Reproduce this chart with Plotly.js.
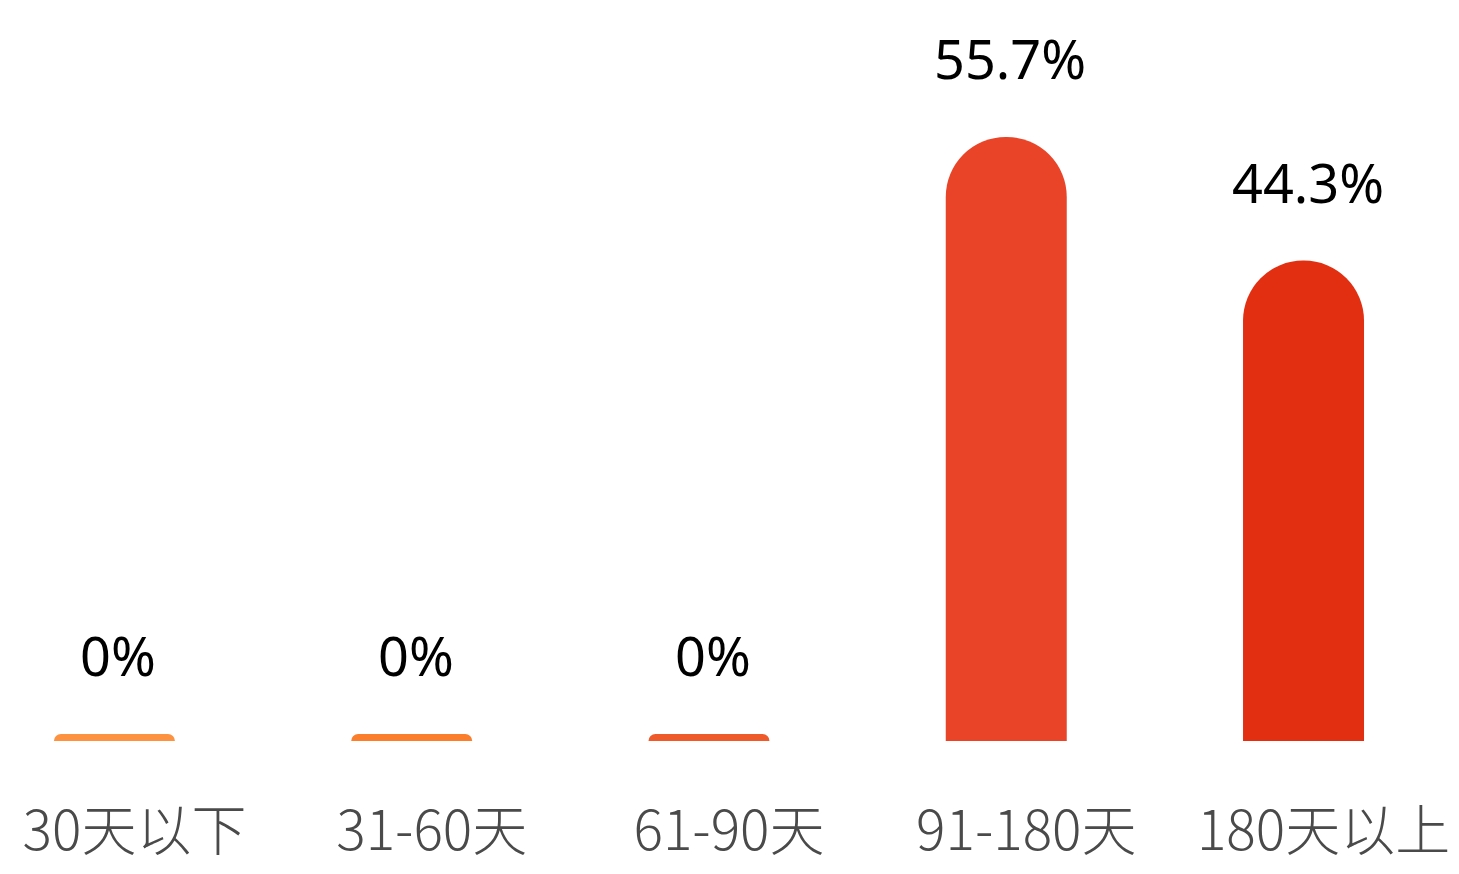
<!DOCTYPE html>
<html>
<head>
<meta charset="utf-8">
<script src="https://cdn.plot.ly/plotly-3.0.1.min.js"></script>
<style>html,body{margin:0;padding:0;background:#fff;}#chart{width:1459px;height:874px;}</style>
</head>
<body>
<div id="chart"></div>
<script>
// Data
var categories = ["30天以下", "31-60天", "61-90天", "91-180天", "180天以上"];
var values = [0, 0, 0, 55.7, 44.3];
var valueLabels = ["0%", "0%", "0%", "55.7%", "44.3%"];
var barColors = ["#FD9241", "#FA7E2B", "#EE5A2A", "#E94428", "#E22F11"];

// zero-valued bars are drawn as a thin stub (style)
var stub = 0.65;
var shown = values.map(function (v) { return v === 0 ? stub : v; });

var trace = {
  type: "bar",
  x: categories,
  y: shown,
  width: 0.407,
  marker: { color: barColors, cornerradius: "50%", line: { width: 0 } },
  hoverinfo: "skip",
  showlegend: false
};

var annotations = categories.map(function (c, i) {
  return {
    x: c, y: shown[i], xref: "x", yref: "y",
    text: valueLabels[i], showarrow: false,
    yanchor: "bottom", yshift: 40, xshift: 4,
    font: { family: "Noto Sans, Open Sans, sans-serif", size: 54, color: "#000" }
  };
});

var layout = {
  width: 1459, height: 874,
  margin: { l: 0, r: 0, t: 0, b: 110 },
  paper_bgcolor: "#fff", plot_bgcolor: "#fff",
  xaxis: {
    type: "category",
    range: [-0.385, 4.523],
    showgrid: false, zeroline: false, showline: false, ticks: "",
    ticklabelshift: 20,
    ticklabelstandoff: 30,
    tickfont: { family: "Noto Sans CJK SC, sans-serif", size: 55, color: "#4a4a4a", weight: 300 }
  },
  yaxis: {
    range: [-2.121, 68.33],
    visible: false, showgrid: false, zeroline: false
  },
  annotations: annotations
};

Plotly.newPlot("chart", [trace], layout, { displayModeBar: false, staticPlot: true });
</script>
</body>
</html>
